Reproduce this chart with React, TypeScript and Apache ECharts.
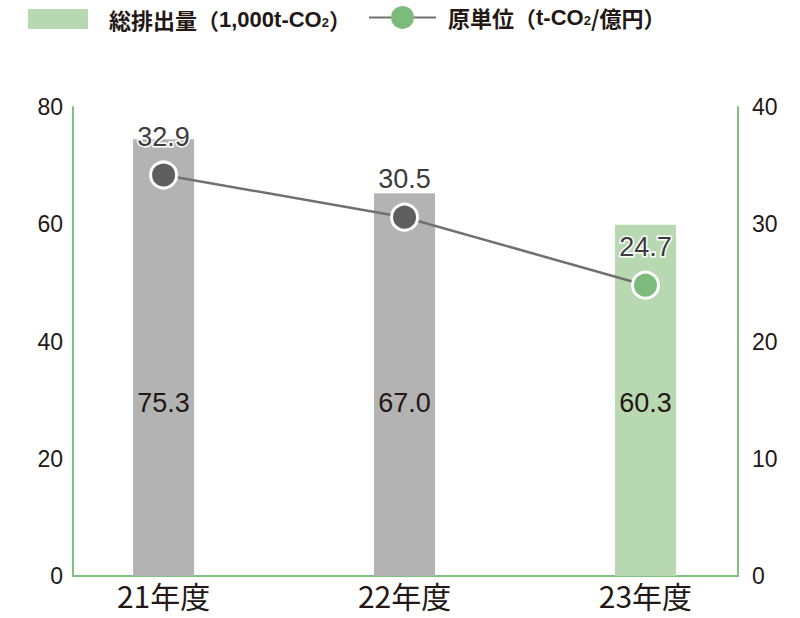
import React, { useEffect, useRef } from "react";
import * as echarts from "echarts";

const categories = ["21年度", "22年度", "23年度"];
// bar heights as drawn in the picture, and their printed labels
const emissionValues = [74.5, 65.3, 59.9];
const emissionLabels = ["75.3", "67.0", "60.3"];
// line points as drawn, and their printed labels
const intensityValues = [34.2, 30.6, 24.8];
const intensityLabels = ["32.9", "30.5", "24.7"];
const leftTicks = [0, 20, 40, 60, 80];
const rightTicks = [0, 10, 20, 30, 40];

const GRAY_BAR = "#b3b3b3";
const GREEN_BAR = "#b8d8b2";
const GRAY_DOT = "#5e5e5e";
const GREEN_DOT = "#7dbb7d";
const AXIS_GREEN = "#80c080";
const TEXT = "#231815";
const NUM_FONT = "'Liberation Sans', Arial, sans-serif";
const CJK_FONT = "'Noto Sans CJK JP', 'Liberation Sans', sans-serif";

export default function App() {
  const ref = useRef<HTMLDivElement>(null);
  useEffect(() => {
    document.body.style.margin = "0";
    const chart = echarts.init(ref.current!, null, { renderer: "svg" });
    const last = categories.length - 1;
    const legendRich = {
      n: { fontSize: 22, fontFamily: NUM_FONT, fontWeight: "bold", color: TEXT },
      s: { fontSize: 13, fontFamily: NUM_FONT, fontWeight: "bold", color: TEXT, padding: [7, 0, 0, 0] },
    };
    chart.setOption({
      animation: false,
      grid: { left: 73, right: 62, top: 107, bottom: 42 },
      legend: [
        {
          data: [{ name: "総排出量", itemStyle: { color: GREEN_BAR } }],
          left: 23,
          top: 3,
          itemWidth: 60,
          itemHeight: 20,
          icon: "rect",
          textStyle: {
            fontSize: 22,
            fontFamily: CJK_FONT,
            fontWeight: "bold",
            color: TEXT,
            padding: [0, 0, 0, 16],
            rich: legendRich,
          },
          formatter: () => "総排出量（{n|1,000t-CO}{s|2}）",
        },
        {
          data: [{ name: "原単位", itemStyle: { color: GREEN_DOT, borderColor: GREEN_DOT } }],
          left: 363,
          top: 1,
          itemWidth: 67,
          itemHeight: 26,
          textStyle: {
            fontSize: 22,
            fontFamily: CJK_FONT,
            fontWeight: "bold",
            color: TEXT,
            padding: [0, 0, 0, 7],
            rich: legendRich,
          },
          formatter: () => "原単位（{n|t-CO}{s|2}/億円）",
        },
      ],
      xAxis: {
        type: "value",
        min: -0.376,
        max: last + 0.384,
        splitLine: { show: false },
        axisTick: { show: false },
        axisLine: { show: true, onZero: false, lineStyle: { color: AXIS_GREEN, width: 2 } },
        axisLabel: {
          customValues: categories.map((_, i) => i),
          formatter: (v: number) => categories[Math.round(v)] ?? "",
          fontSize: 30,
          fontFamily: CJK_FONT,
          color: TEXT,
          margin: 4,
        },
      },
      yAxis: [
        {
          type: "value",
          min: leftTicks[0],
          max: leftTicks[leftTicks.length - 1],
          interval: leftTicks[1] - leftTicks[0],
          splitLine: { show: false },
          axisTick: { show: false },
          axisLine: { show: true, onZero: false, lineStyle: { color: AXIS_GREEN, width: 2 } },
          axisLabel: { fontSize: 23, fontFamily: NUM_FONT, color: TEXT, margin: 10 },
        },
        {
          type: "value",
          min: rightTicks[0],
          max: rightTicks[rightTicks.length - 1],
          interval: rightTicks[1] - rightTicks[0],
          splitLine: { show: false },
          axisTick: { show: false },
          axisLine: { show: true, onZero: false, lineStyle: { color: AXIS_GREEN, width: 2 } },
          axisLabel: { fontSize: 23, fontFamily: NUM_FONT, color: TEXT, margin: 14 },
        },
      ],
      series: [
        {
          name: "総排出量",
          type: "bar",
          yAxisIndex: 0,
          barWidth: 61,
          data: emissionValues.map((v, i) => ({
            value: [i, v],
            itemStyle: { color: i === last ? GREEN_BAR : GRAY_BAR },
          })),
          label: {
            show: true,
            position: "insideBottom",
            distance: 160,
            fontSize: 27,
            fontFamily: NUM_FONT,
            color: TEXT,
            formatter: (p: any) => emissionLabels[p.dataIndex],
          },
          z: 1,
        },
        {
          name: "原単位",
          type: "line",
          yAxisIndex: 1,
          symbol: "circle",
          symbolSize: 26,
          lineStyle: { color: "#707070", width: 2.5 },
          itemStyle: { color: GRAY_DOT, borderColor: "#ffffff", borderWidth: 3 },
          data: intensityValues.map((v, i) => ({
            value: [i, v],
            itemStyle: { color: i === last ? GREEN_DOT : GRAY_DOT, borderColor: "#ffffff", borderWidth: 3 },
          })),
          label: {
            show: true,
            position: "top",
            distance: 10,
            fontSize: 27,
            fontFamily: NUM_FONT,
            color: "#3c3c3c",
            textBorderColor: "#ffffff",
            textBorderWidth: 3,
            formatter: (p: any) => intensityLabels[p.dataIndex],
          },
          z: 3,
        },
      ],
    });
    return () => chart.dispose();
  }, []);
  return <div ref={ref} style={{ width: 800, height: 618 }} />;
}
